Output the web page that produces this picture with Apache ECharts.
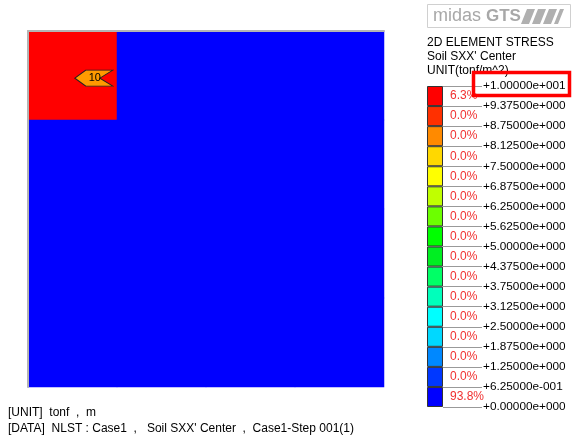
<!DOCTYPE html>
<html>
<head>
<meta charset="UTF-8">
<title></title>
<script type="text/javascript" src="https://cdn.jsdelivr.net/npm/echarts@6/dist/echarts.min.js"></script>
<style>html,body{margin:0;padding:0;background:#fff;}</style>
</head>
<body>
<div id="main" style="width:573px;height:440px;"></div>
<script type="text/javascript">
// element values, row 0 = top row of the plate
var cellRows = [
    [10, 0, 0, 0],
    [0, 0, 0, 0],
    [0, 0, 0, 0],
    [0, 0, 0, 0]
];
// contour band limits (tonf/m^2), bottom to top
var levels = [0, 0.625, 1.25, 1.875, 2.5, 3.125, 3.75, 4.375, 5, 5.625, 6.25, 6.875, 7.5, 8.125, 8.75, 9.375, 10];
// band colours, bottom to top
var bandColors = ['#0000ff', '#0038ff', '#0088ff', '#00d8ff', '#00ffff', '#00ffbb', '#00ff66', '#00ee22',
    '#00ff00', '#6cff00', '#c0ff00', '#ffff00', '#ffd800', '#ff8a00', '#ff3000', '#ff0000'];
// area share per band, bottom to top
var bandPct = ['93.8%', '0.0%', '0.0%', '0.0%', '0.0%', '0.0%', '0.0%', '0.0%',
    '0.0%', '0.0%', '0.0%', '0.0%', '0.0%', '0.0%', '0.0%', '6.3%'];
// max value tag [x, y, value] in plate units
var tagPoint = [0.74, 3.47, 10];

var FONT = 'Arial, "Liberation Sans", sans-serif';

var chart = echarts.init(document.getElementById('main'));

var cells = [];
for (var r = 0; r < cellRows.length; r++) {
    for (var c = 0; c < cellRows[r].length; c++) {
        cells.push([c, cellRows.length - 1 - r, cellRows[r][c]]);
    }
}

var pieces = [];
for (var i = 0; i < bandColors.length; i++) {
    pieces.push({min: levels[i], max: levels[i + 1], color: bandColors[i]});
}

function fmt(v) {
    var p = Math.abs(v).toExponential(5).split('e');
    var e = parseInt(p[1], 10);
    return (v < 0 ? '-' : '+') + p[0] + 'e' + (e < 0 ? '-' : '+') + ('00' + Math.abs(e)).slice(-3);
}

var series = [{
    type: 'heatmap',
    xAxisIndex: 0,
    yAxisIndex: 0,
    data: cells,
    itemStyle: {borderWidth: 0},
    silent: true
}, {
    type: 'scatter',
    xAxisIndex: 1,
    yAxisIndex: 1,
    data: [tagPoint],
    symbol: 'path://M0,8L11,0L38,0L25,8L38,16L11,16Z',
    symbolSize: [38, 16],
    itemStyle: {color: '#ff9a00', borderColor: '#222', borderWidth: 1, opacity: 1},
    label: {
        show: true, position: 'inside', offset: [1, 0], color: '#000', fontSize: 11, fontFamily: FONT,
        formatter: function (p) { return p.value[2]; }
    },
    z: 10,
    silent: true
}];

for (var k = 0; k < bandColors.length; k++) {
    series.push({
        type: 'bar',
        xAxisIndex: 2,
        yAxisIndex: 2,
        stack: 'band',
        barWidth: '100%',
        data: [levels[k + 1] - levels[k]],
        itemStyle: {color: bandColors[k], borderColor: '#333', borderWidth: 1},
        label: {
            show: true, position: 'right', distance: 7, formatter: bandPct[k],
            color: '#f03030', fontSize: 12, fontFamily: FONT
        },
        silent: true
    });
}

var option = {
    animation: false,
    backgroundColor: '#fff',
    grid: [
        {left: 28, top: 31, width: 356, height: 356},
        {left: 427, top: 86, width: 16, height: 321}
    ],
    xAxis: [
        {gridIndex: 0, type: 'category', data: ['1', '2', '3', '4'], position: 'top', z: 5,
            axisLine: {show: true, onZero: false, lineStyle: {color: '#b4b4b4', width: 2}},
            axisTick: {show: false}, axisLabel: {show: false}, splitLine: {show: false}},
        {gridIndex: 0, type: 'value', min: 0, max: 4, position: 'bottom', show: false},
        {gridIndex: 1, type: 'category', data: ['band'], show: false}
    ],
    yAxis: [
        {gridIndex: 0, type: 'category', data: ['1', '2', '3', '4'], position: 'left', z: 5,
            axisLine: {show: true, onZero: false, lineStyle: {color: '#b4b4b4', width: 2}},
            axisTick: {show: false}, axisLabel: {show: false}, splitLine: {show: false}},
        {gridIndex: 0, type: 'value', min: 0, max: 4, position: 'right', show: false},
        {gridIndex: 1, type: 'value', min: 0, max: 10, interval: 0.625, position: 'right',
            axisLine: {show: false}, splitLine: {show: false},
            axisTick: {show: true, length: 39, lineStyle: {color: '#999'}},
            axisLabel: {margin: 40, fontSize: 11.8, color: '#000', fontFamily: FONT, formatter: fmt,
                padding: [0, 0, 4, 0], showMinLabel: true, showMaxLabel: true}}
    ],
    visualMap: {type: 'piecewise', show: false, seriesIndex: 0, pieces: pieces},
    graphic: [
        // logo
        {type: 'rect', shape: {x: 427.5, y: 4.5, width: 143, height: 23},
            style: {fill: '#fff', stroke: '#d0d0d0', lineWidth: 1}},
        {type: 'text', x: 433, y: 16, style: {text: 'midas', font: '18px ' + FONT, fill: '#a8a8a8', verticalAlign: 'middle'}},
        {type: 'text', x: 486, y: 16, style: {text: 'GTS', font: 'bold 17px ' + FONT, fill: '#a8a8a8', verticalAlign: 'middle'}},
        {type: 'polygon', shape: {points: [[521, 24], [529, 24], [535, 9], [527, 9]]}, style: {fill: '#b0b0b0'}},
        {type: 'polygon', shape: {points: [[532, 24], [540, 24], [546, 9], [538, 9]]}, style: {fill: '#b0b0b0'}},
        {type: 'polygon', shape: {points: [[543, 24], [551, 24], [557, 9], [549, 9]]}, style: {fill: '#b0b0b0'}},
        {type: 'polygon', shape: {points: [[554, 24], [558, 24], [564, 9], [560, 9]]}, style: {fill: '#b0b0b0'}},
        // legend title
        {type: 'text', x: 427, y: 43, style: {text: '2D ELEMENT STRESS', font: '12px ' + FONT, fill: '#000', verticalAlign: 'middle'}},
        {type: 'text', x: 427, y: 57, style: {text: "Soil SXX' Center", font: '12px ' + FONT, fill: '#000', verticalAlign: 'middle'}},
        {type: 'text', x: 427, y: 71, style: {text: 'UNIT(tonf/m^2)', font: '12px ' + FONT, fill: '#000', verticalAlign: 'middle'}},
        // highlight box on top limit
        {type: 'rect', z: 100, shape: {x: 473.5, y: 72.5, width: 96, height: 23},
            style: {fill: null, stroke: '#ff0000', lineWidth: 3.5}},
        // footer
        {type: 'text', x: 8, y: 413, style: {text: '[UNIT]  tonf  ,  m', font: '12px ' + FONT, fill: '#000', verticalAlign: 'middle'}},
        {type: 'text', x: 8, y: 429, style: {text: "[DATA]  NLST : Case1  ,   Soil SXX' Center  ,  Case1-Step 001(1)", font: '12px ' + FONT, fill: '#000', verticalAlign: 'middle'}}
    ],
    series: series
};

chart.setOption(option);
</script>
</body>
</html>
